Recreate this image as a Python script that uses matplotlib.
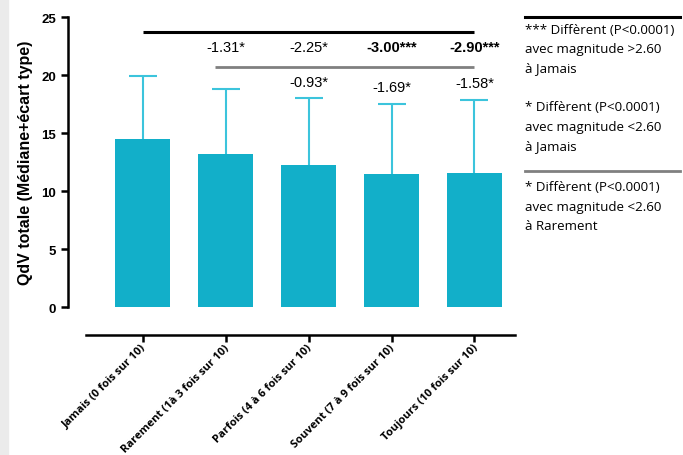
import matplotlib
matplotlib.use("Agg")
import matplotlib.pyplot as plt
from matplotlib.lines import Line2D
from matplotlib.patches import Rectangle
import matplotlib.transforms as mtrans
import numpy as np

categories = ["Jamais (0 fois sur 10)", "Rarement (1à 3 fois sur 10)",
              "Parfois (4 à 6 fois sur 10)", "Souvent (7 à 9 fois sur 10)",
              "Toujours (10 fois sur 10)"]
medians = [14.5, 13.2, 12.3, 11.5, 11.6]
sds = [5.4, 5.6, 5.7, 6.0, 6.3]

# differences vs Jamais (top row) and vs Rarement (second row)
diff_jamais = ["", "-1.31*", "-2.25*", "-3.00***", "-2.90***"]
bold_jamais = [False, False, False, True, True]
diff_rarement = ["", "", "-0.93*", "-1.69*", "-1.58*"]

legend_lines = ["*** Diffèrent (P<0.0001)", "avec magnitude >2.60", "à Jamais", "",
                "* Diffèrent (P<0.0001)", "avec magnitude <2.60", "à Jamais"]
legend_lines2 = ["* Diffèrent (P<0.0001)", "avec magnitude <2.60", "à Rarement"]

bar_col = "#12afc9"
err_col = "#3cc4dc"

fig = plt.figure(figsize=(6.83, 4.56), dpi=100)
fig.patches.append(Rectangle((0, 0), 8 / 683, 1, transform=fig.transFigure,
                             color="#ebebeb", zorder=0))
ax = fig.add_axes([0.0996, 0.324, 0.668, 0.636])

x = np.arange(len(categories))
ax.bar(x, medians, width=0.66, color=bar_col, zorder=2)
_, caps, _ = ax.errorbar(x, medians, yerr=[np.zeros(len(sds)), sds], fmt="none",
                         ecolor=err_col, elinewidth=1.5, capsize=10,
                         capthick=1.5, zorder=1)
for c in caps:
    if np.allclose(c.get_ydata(), medians):
        c.set_visible(False)

ax.set_xlim(-0.9, 4.6)
ax.set_ylim(0, 25)
ax.set_yticks([0, 5, 10, 15, 20, 25])
for s in ["top", "right"]:
    ax.spines[s].set_visible(False)
ax.spines["left"].set_linewidth(1.8)
ax.spines["bottom"].set_linewidth(1.8)
ax.spines["bottom"].set_position(("outward", 20))
ax.spines["bottom"].set_bounds(-0.68, 4.49)
ax.tick_params(axis="both", width=1.8, length=5)
ax.set_xticks(x)
ax.set_xticklabels(categories, rotation=45, ha="right", va="top",
                   rotation_mode="anchor", fontsize=8.0, fontweight="bold",
                   family="Open Sans")
shift = mtrans.ScaledTranslation(-2 / 100, 5 / 100, fig.dpi_scale_trans)
for lab in ax.get_xticklabels():
    lab.set_transform(lab.get_transform() + shift)
for lab in ax.get_yticklabels():
    lab.set_fontweight("bold")
    lab.set_fontsize(9.5)
    lab.set_family("Liberation Sans")
ax.set_ylabel("QdV totale (Médiane+écart type)", fontsize=11.5,
              fontweight="bold", family="Liberation Sans", labelpad=6)

# comparison brackets
ax.plot([0, 4], [23.76, 23.76], color="black", lw=2.2, solid_capstyle="butt")
ax.plot([0.87, 4], [20.7, 20.7], color="#808080", lw=2.0, solid_capstyle="butt")

for i in x:
    if diff_jamais[i]:
        ax.text(i, 22.4, diff_jamais[i], ha="center", va="center", fontsize=10.5,
                family="Liberation Sans",
                fontweight="bold" if bold_jamais[i] else "normal")
    if diff_rarement[i]:
        ax.text(i, medians[i] + sds[i] + 1.45, diff_rarement[i], ha="center",
                va="center", fontsize=10.5, family="Liberation Sans")

# side legend
fig.add_artist(Line2D([525 / 683, 680 / 683], [1 - 18 / 456, 1 - 18 / 456],
                      color="black", lw=2.2))
fig.add_artist(Line2D([525 / 683, 680 / 683], [1 - 172 / 456, 1 - 172 / 456],
                      color="#808080", lw=2.0))
for k, t in enumerate(legend_lines):
    if t:
        fig.text(525 / 683, 1 - (30 + 19.5 * k) / 456, t, fontsize=9.6,
                 family="Open Sans", va="center", ha="left")
for k, t in enumerate(legend_lines2):
    fig.text(525 / 683, 1 - (188 + 19.5 * k) / 456, t, fontsize=9.6,
             family="Open Sans", va="center", ha="left")

fig.savefig("out.png", dpi=100)
